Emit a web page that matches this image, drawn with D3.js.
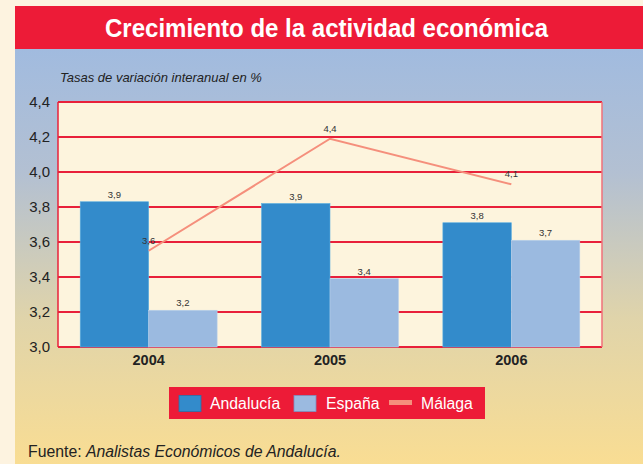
<!DOCTYPE html>
<html>
<head>
<meta charset="utf-8">
<script src="https://cdn.jsdelivr.net/npm/d3@7"></script>
<style>
  body { margin: 0; background: #fdf3e0; }
  svg { display: block; font-family: "Liberation Sans", Arial, sans-serif; }
</style>
</head>
<body>
<div id="chart"></div>
<script>
var years = ["2004", "2005", "2006"];
var andalucia = [3.83, 3.82, 3.71];
var espana = [3.21, 3.39, 3.61];
var malaga = [3.55, 4.19, 3.93];
// labels printed on the chart (rounded by the source)
var andaluciaLabels = ["3,9", "3,9", "3,8"];
var espanaLabels = ["3,2", "3,4", "3,7"];
var malagaLabels = ["3,6", "4,4", "4,1"];
var yTicks = [3.0, 3.2, 3.4, 3.6, 3.8, 4.0, 4.2, 4.4];

var width = 643, height = 464;
var margin = {top: 102, right: 41, bottom: 117, left: 58};

var svg = d3.select("#chart").append("svg")
    .attr("width", width)
    .attr("height", height);

// background gradient
var grad = svg.append("defs").append("linearGradient")
    .attr("id", "bg")
    .attr("x1", 0).attr("y1", 0).attr("x2", 0).attr("y2", 1);
grad.append("stop").attr("offset", "0%").attr("stop-color", "#a1bbdf");
grad.append("stop").attr("offset", "30%").attr("stop-color", "#b3c0d2");
grad.append("stop").attr("offset", "65%").attr("stop-color", "#e0d4aa");
grad.append("stop").attr("offset", "100%").attr("stop-color", "#f9dd93");

svg.append("rect")
    .attr("x", 0).attr("y", 0)
    .attr("width", width).attr("height", height)
    .attr("fill", "#fdf3e0");

svg.append("rect")
    .attr("x", 15).attr("y", 49)
    .attr("width", width - 15).attr("height", height - 49)
    .attr("fill", "url(#bg)");

// title bar
svg.append("rect")
    .attr("x", 15).attr("y", 6)
    .attr("width", width - 15).attr("height", 43)
    .attr("fill", "#ed1b37");

svg.append("text")
    .attr("x", 326.5).attr("y", 37)
    .attr("text-anchor", "middle")
    .attr("fill", "#fff")
    .attr("font-weight", "bold")
    .attr("font-size", 26)
    .attr("textLength", 443)
    .attr("lengthAdjust", "spacingAndGlyphs")
    .text("Crecimiento de la actividad económica");

svg.append("text")
    .attr("x", 60).attr("y", 82)
    .attr("font-style", "italic")
    .attr("font-size", 13)
    .attr("fill", "#222")
    .text("Tasas de variación interanual en %");

var x0 = d3.scaleBand()
    .domain(years)
    .range([margin.left, width - margin.right])
    .paddingInner(0.245)
    .paddingOuter(0.1225);

var x1 = d3.scaleBand()
    .domain(["andalucia", "espana"])
    .range([0, x0.bandwidth()]);

var y = d3.scaleLinear()
    .domain([3.0, 4.4])
    .range([height - margin.bottom, margin.top]);

function cx(d) { return x0(d) + x0.bandwidth() / 2; }

// plot area
svg.append("rect")
    .attr("x", margin.left).attr("y", margin.top)
    .attr("width", width - margin.left - margin.right)
    .attr("height", height - margin.top - margin.bottom)
    .attr("fill", "#fdf4dd");

svg.append("g").selectAll("line")
    .data(yTicks)
    .join("line")
    .attr("x1", margin.left).attr("x2", width - margin.right)
    .attr("y1", function (d) { return y(d); })
    .attr("y2", function (d) { return y(d); })
    .attr("stroke", "#e8203a")
    .attr("stroke-width", 2);

svg.append("line")
    .attr("x1", margin.left).attr("x2", margin.left)
    .attr("y1", margin.top).attr("y2", height - margin.bottom)
    .attr("stroke", "#e8203a").attr("stroke-width", 1.5);
svg.append("line")
    .attr("x1", width - margin.right).attr("x2", width - margin.right)
    .attr("y1", margin.top).attr("y2", height - margin.bottom)
    .attr("stroke", "#f0707a").attr("stroke-width", 1.5);

// y axis labels
var yAxis = d3.axisLeft(y)
    .tickValues(yTicks)
    .tickSize(0)
    .tickPadding(8)
    .tickFormat(function (d) { return d3.format(".1f")(d).replace(".", ","); });

var ya = svg.append("g")
    .attr("transform", "translate(" + margin.left + ",0)")
    .call(yAxis);
ya.select(".domain").remove();
ya.selectAll("text")
    .attr("font-family", "Liberation Sans, Arial, sans-serif")
    .attr("font-size", 15)
    .attr("fill", "#222");

// x axis labels
var xAxis = d3.axisBottom(x0).tickSize(0).tickPadding(8);
var xa = svg.append("g")
    .attr("transform", "translate(0," + (height - margin.bottom) + ")")
    .call(xAxis);
xa.select(".domain").remove();
xa.selectAll("text")
    .attr("font-family", "Liberation Sans, Arial, sans-serif")
    .attr("font-size", 14.5)
    .attr("font-weight", "bold")
    .attr("fill", "#222");

// bars
var groups = svg.append("g").selectAll("g")
    .data(years)
    .join("g")
    .attr("transform", function (d) { return "translate(" + x0(d) + ",0)"; });

groups.append("rect")
    .attr("x", x1("andalucia"))
    .attr("width", x1.bandwidth())
    .attr("y", function (d, i) { return y(andalucia[i]); })
    .attr("height", function (d, i) { return y(3.0) - y(andalucia[i]); })
    .attr("fill", "#338bcb")
    .attr("stroke", "#5aaee0").attr("stroke-width", 0.6);

groups.append("rect")
    .attr("x", x1("espana"))
    .attr("width", x1.bandwidth())
    .attr("y", function (d, i) { return y(espana[i]); })
    .attr("height", function (d, i) { return y(3.0) - y(espana[i]); })
    .attr("fill", "#9bbae0")
    .attr("stroke", "#b8cfea").attr("stroke-width", 0.6);

groups.append("text")
    .attr("x", x1("andalucia") + x1.bandwidth() / 2)
    .attr("y", function (d, i) { return y(andalucia[i]) - 4; })
    .attr("text-anchor", "middle")
    .attr("font-size", 9.5)
    .attr("fill", "#333")
    .text(function (d, i) { return andaluciaLabels[i]; });

groups.append("text")
    .attr("x", x1("espana") + x1.bandwidth() / 2)
    .attr("y", function (d, i) { return y(espana[i]) - 4; })
    .attr("text-anchor", "middle")
    .attr("font-size", 9.5)
    .attr("fill", "#333")
    .text(function (d, i) { return espanaLabels[i]; });

// Malaga line
var line = d3.line()
    .x(function (d, i) { return cx(years[i]); })
    .y(function (d) { return y(d); });

svg.append("path")
    .datum(malaga)
    .attr("d", line)
    .attr("fill", "none")
    .attr("stroke", "#f58f7c")
    .attr("stroke-width", 2);

svg.append("g").selectAll("text")
    .data(malaga)
    .join("text")
    .attr("x", function (d, i) { return cx(years[i]); })
    .attr("y", function (d) { return y(d) - 7; })
    .attr("text-anchor", "middle")
    .attr("font-size", 9.5)
    .attr("fill", "#333")
    .text(function (d, i) { return malagaLabels[i]; });

// legend
var lg = svg.append("g").attr("transform", "translate(169,387)");
lg.append("rect")
    .attr("width", 316).attr("height", 32)
    .attr("fill", "#ed1b37");
lg.append("rect")
    .attr("x", 10).attr("y", 8.5).attr("width", 22).attr("height", 16)
    .attr("fill", "#338bcb").attr("stroke", "#2a70a8").attr("stroke-width", 0.8);
lg.append("text")
    .attr("x", 41).attr("y", 21.5).attr("font-size", 15.8).attr("fill", "#fff")
    .text("Andalucía");
lg.append("rect")
    .attr("x", 125).attr("y", 8.5).attr("width", 22).attr("height", 16)
    .attr("fill", "#9bbae0").attr("stroke", "#7d8fc0").attr("stroke-width", 0.8);
lg.append("text")
    .attr("x", 157).attr("y", 21.5).attr("font-size", 15.8).attr("fill", "#fff")
    .text("España");
lg.append("line")
    .attr("x1", 220).attr("x2", 243).attr("y1", 15.5).attr("y2", 15.5)
    .attr("stroke", "#f58f7c").attr("stroke-width", 5);
lg.append("text")
    .attr("x", 252).attr("y", 21.5).attr("font-size", 15.8).attr("fill", "#fff")
    .text("Málaga");

// source
var src = svg.append("text")
    .attr("x", 28).attr("y", 457)
    .attr("font-size", 15.8)
    .attr("fill", "#222");
src.append("tspan").text("Fuente: ");
src.append("tspan").attr("font-style", "italic").text("Analistas Económicos de Andalucía.");
</script>
</body>
</html>
